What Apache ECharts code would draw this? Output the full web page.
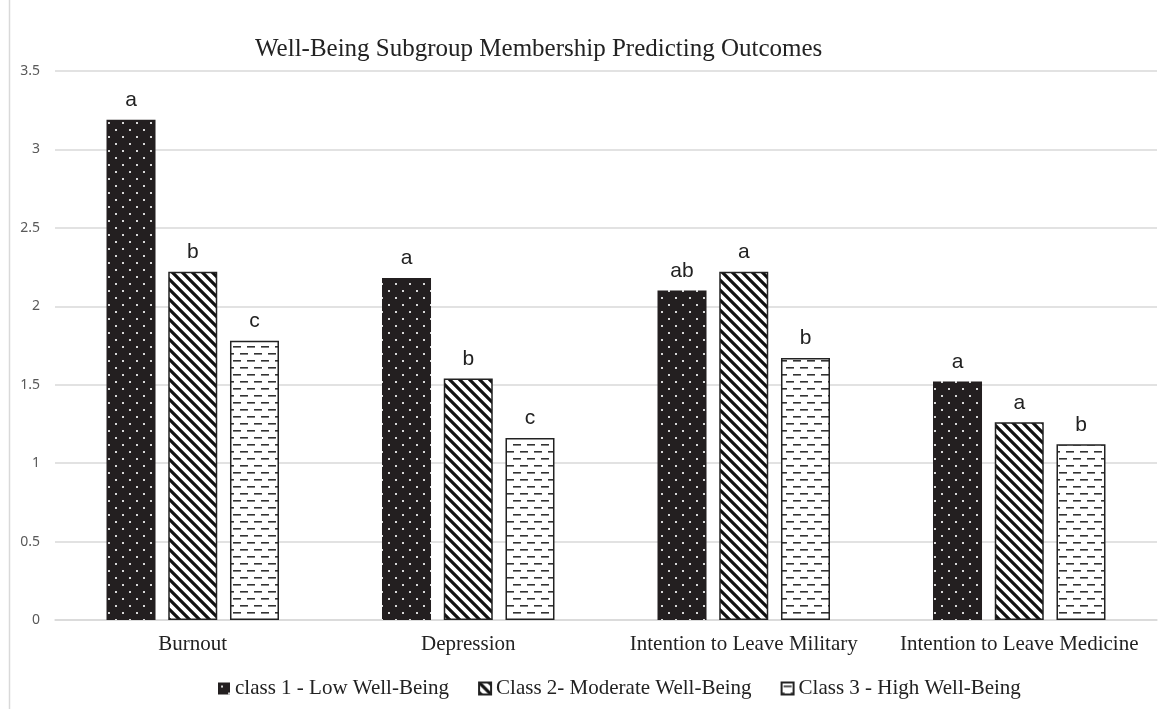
<!DOCTYPE html>
<html>
<head>
<meta charset="utf-8">
<script src="https://cdn.jsdelivr.net/npm/echarts@6/dist/echarts.min.js"></script>
<style>
    html, body { margin: 0; padding: 0; background: #fff; }
    #chart { width: 1170px; height: 709px; }
</style>
</head>
<body>
<div id="chart"></div>
<script>
    const categories = ['Burnout', 'Depression', 'Intention to Leave Military', 'Intention to Leave Medicine']
    const seriesNames = ['class 1 - Low Well-Being', 'Class 2- Moderate Well-Being', 'Class 3 - High Well-Being']
    const class1Values = [3.19, 2.18, 2.10, 1.52]
    const class2Values = [2.22, 1.54, 2.22, 1.26]
    const class3Values = [1.78, 1.16, 1.67, 1.12]
    const class1Letters = ['a', 'a', 'ab', 'a']
    const class2Letters = ['b', 'b', 'a', 'a']
    const class3Letters = ['c', 'c', 'b', 'b']

    // pattern tiles, drawn on small canvases
    function dotTile() {
        const c = document.createElement('canvas')
        c.width = 14
        c.height = 14
        const ctx = c.getContext('2d')
        ctx.fillStyle = '#231f20'
        ctx.fillRect(0, 0, 14, 14)
        ctx.fillStyle = '#d8d8d8'
        ctx.fillRect(3, 3, 2, 2)
        ctx.fillRect(10, 10, 2, 2)
        return c
    }

    function stripeTile() {
        const s = 10
        const c = document.createElement('canvas')
        c.width = s
        c.height = s
        const ctx = c.getContext('2d')
        ctx.fillStyle = '#fff'
        ctx.fillRect(0, 0, s, s)
        ctx.strokeStyle = '#111'
        ctx.lineWidth = 3.2
        ctx.beginPath()
        ctx.moveTo(-s, 0); ctx.lineTo(s, 2 * s)
        ctx.moveTo(0, 0); ctx.lineTo(s, s)
        ctx.moveTo(0, -s); ctx.lineTo(2 * s, s)
        ctx.stroke()
        return c
    }

    function dashTile() {
        const c = document.createElement('canvas')
        c.width = 14
        c.height = 14
        const ctx = c.getContext('2d')
        ctx.fillStyle = '#fff'
        ctx.fillRect(0, 0, 14, 14)
        ctx.fillStyle = '#333'
        ctx.fillRect(2, 3, 8, 1.6)
        ctx.fillRect(9, 10, 5, 1.6)
        ctx.fillRect(0, 10, 3, 1.6)
        return c
    }

    const patterns = [
        { image: dotTile(), repeat: 'repeat' },
        { image: stripeTile(), repeat: 'repeat' },
        { image: dashTile(), repeat: 'repeat' }
    ]
    const values = [class1Values, class2Values, class3Values]
    const letters = [class1Letters, class2Letters, class3Letters]

    const chart = echarts.init(document.getElementById('chart'), null, { renderer: 'canvas' })

    const series = seriesNames.map((name, i) => ({
        name: name,
        type: 'bar',
        data: values[i],
        barWidth: 49,
        barGap: '26%',
        itemStyle: {
            color: patterns[i],
            borderColor: i === 0 ? '#231f20' : '#222',
            borderWidth: i === 0 ? 0 : 1.5
        },
        label: {
            show: true,
            position: 'top',
            distance: 9,
            fontFamily: 'Liberation Sans',
            fontSize: 21,
            color: '#222',
            formatter: p => letters[i][p.dataIndex]
        }
    }))

    const options = {
        animation: false,
        backgroundColor: '#fff',
        title: {
            text: 'Well-Being Subgroup Membership Predicting Outcomes',
            left: 250,
            top: 32,
            textStyle: {
                fontFamily: 'Liberation Serif',
                fontWeight: 'normal',
                fontSize: 25,
                color: '#222'
            }
        },
        legend: {
            data: seriesNames,
            left: 213,
            top: 673,
            icon: 'rect',
            itemWidth: 12,
            itemHeight: 12,
            itemGap: 29,
            textStyle: {
                fontFamily: 'Liberation Serif',
                fontSize: 21,
                color: '#222'
            }
        },
        graphic: [{
            type: 'line',
            shape: { x1: 9.5, y1: 0, x2: 9.5, y2: 709 },
            style: { stroke: '#d9d9d9', lineWidth: 1.5 }
        }],
        grid: {
            left: 55,
            right: 13,
            top: 71,
            bottom: 89
        },
        xAxis: {
            type: 'category',
            data: categories,
            axisTick: { show: false },
            axisLine: { lineStyle: { color: '#d9d9d9', width: 1.5 } },
            axisLabel: {
                interval: 0,
                margin: 14,
                fontFamily: 'Liberation Serif',
                fontSize: 21,
                color: '#222'
            }
        },
        yAxis: {
            type: 'value',
            min: 0,
            max: 3.5,
            interval: 0.5,
            axisLine: { show: false },
            axisTick: { show: false },
            splitLine: { lineStyle: { color: '#d9d9d9', width: 1.5 } },
            axisLabel: {
                margin: 15,
                fontFamily: 'Noto Sans',
                fontSize: 14,
                color: '#595959'
            }
        },
        series: series
    }
    chart.setOption(options)
</script>
</body>
</html>
